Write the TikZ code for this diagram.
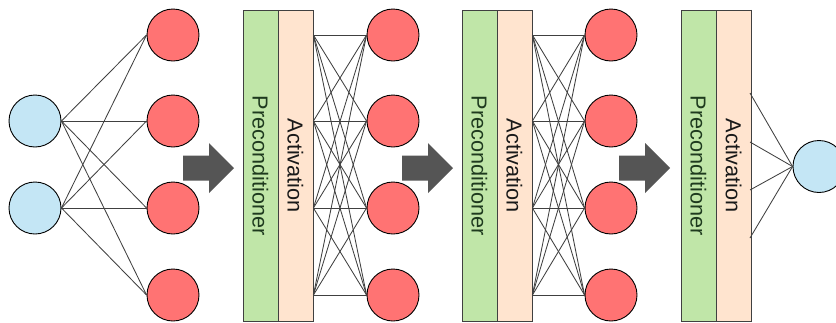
\documentclass[tikz,border=0pt]{standalone}
\usepackage{fontspec}
\setmainfont{Liberation Sans}
\usetikzlibrary{calc}

\definecolor{inblue}{HTML}{C4E6F5}
\definecolor{hidred}{HTML}{FF7373}
\definecolor{precgreen}{HTML}{C0E6A8}
\definecolor{actpeach}{HTML}{FFE4CF}
\definecolor{arrowgray}{HTML}{555555}
\definecolor{prectext}{HTML}{1E3A1E}

\tikzset{
  neuron/.style={circle, draw=black, line width=0.9pt, minimum size=52pt, inner sep=0pt},
  inneuron/.style={neuron, fill=inblue},
  hidneuron/.style={neuron, fill=hidred},
  layerbar/.style={rectangle, draw=black!75, line width=0.8pt, minimum width=35pt,
                   minimum height=311pt, inner sep=0pt},
  precbar/.style={layerbar, fill=precgreen},
  actbar/.style={layerbar, fill=actpeach},
  bartext/.style={rotate=-90, font=\fontsize{21.7}{26}\selectfont, inner sep=0pt},
  wire/.style={draw=black!75, line width=0.85pt},
  bigarrow/.style={fill=arrowgray, draw=none},
}

\begin{document}
\begin{tikzpicture}[x=1pt, y=-1pt]
\useasboundingbox (0,0) rectangle (836,322);
\clip (0,0) rectangle (836,322);

% input layer
\node[inneuron] (i1) at (35,121) {};
\node[inneuron] (i2) at (35,208) {};

% first hidden layer
\foreach \k/\y in {1/35,2/121,3/208,4/295}
  \node[hidneuron] (a\k) at (173,\y) {};

% input -> first hidden
\foreach \i in {1,2}
  \foreach \k in {1,2,3,4}
    \draw[wire] (i\i.east) -- (a\k.west);

% block arrows
\foreach \n/\x in {1/183,2/402,3/619}
  \fill[bigarrow] (\x,155.5) coordinate (arr\n)
     -- ++(26,0) -- ++(0,-12.5) -- ++(25,25) -- ++(-25,25) -- ++(0,-12.5)
     -- ++(-26,0) -- cycle;

% preconditioner / activation bars
\foreach \n/\x in {1/243,2/462,3/681}{
  \node[precbar] (p\n) at (\x+17.5,165.75) {};
  \node[actbar]  (c\n) at (\x+52.5,165.75) {};
  \node[bartext, text=prectext] at (p\n.center) {Preconditioner};
  \node[bartext, text=black!90] at (c\n.center) {Activation};
}

% second and third hidden layers
\foreach \k/\y in {1/35,2/121,3/208,4/295}{
  \node[hidneuron] (b\k) at (393,\y) {};
  \node[hidneuron] (d\k) at (611,\y) {};
}

% bar outputs -> next hidden layer (fully connected)
\foreach \j in {1,2,3,4}
  \foreach \k in {1,2,3,4}{
    \draw[wire] (c1.east |- a\j) -- (b\k.west);
    \draw[wire] (c2.east |- b\j) -- (d\k.west);
  }

% output neuron
\node[inneuron] (o) at (819,166.5) {};
\foreach \y [count=\j] in {93,142,190,238}{
  \coordinate (q\j) at (750,\y);
  \draw[wire] (q\j) -- (o.west);
}

% redraw last bar edge over the wire ends
\draw[draw=black!75, line width=0.8pt] (c3.north east) -- (c3.south east);
\end{tikzpicture}
\end{document}
